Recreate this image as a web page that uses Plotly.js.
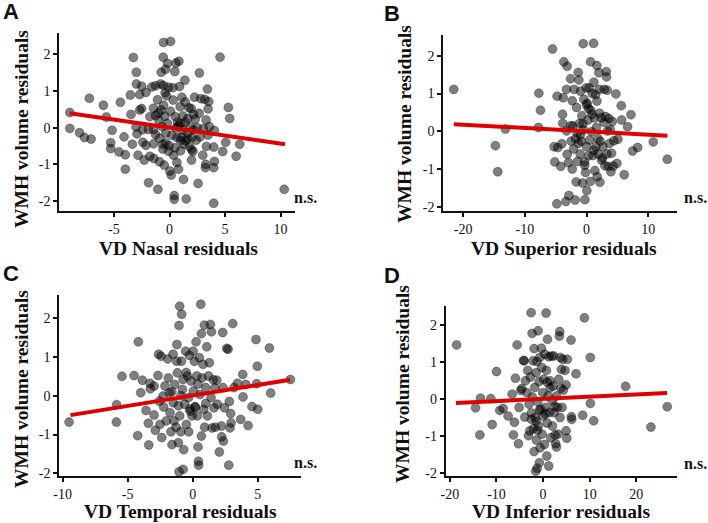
<!DOCTYPE html>
<html>
<head>
<meta charset="utf-8">
<script src="https://cdn.plot.ly/plotly-3.0.1.min.js"></script>
<style>html,body{margin:0;padding:0;background:#fff;}#chart{width:708px;height:523px;}</style>
</head>
<body>
<div id="chart"></div>
<script>
// Panel A: VD Nasal residuals vs WMH volume residuals
const nasalX = [-8.98,-8.98,-8.11,-7.66,-7.07,-7.22,-5.96,-5.69,-5.18,-5.3,-5.3,-4.43,-4.55,-4.10,-3.98,-3.98,-3.26,-3.35,-3.47,-3.53,-2.99,-2.99,-3.02,-2.93,-2.84,-2.69,-2.69,-2.51,-2.51,-2.43,-2.40,-2.28,-2.13,-2.13,-1.89,-1.77,-1.77,-1.59,-1.44,-1.44,-1.44,-1.41,-1.26,-1.26,-1.26,-1.05,-1.08,-0.99,-0.90,-0.90,-0.81,-0.75,-0.75,-0.66,-0.60,-0.54,-0.57,-0.54,-0.54,-0.48,-0.42,-0.36,-0.33,-0.33,-0.27,-0.18,-0.09,-0.09,-0.03,0.03,0.09,0.09,0.15,0.21,0.30,0.33,0.36,0.42,0.42,0.48,0.51,0.57,0.57,0.66,0.66,0.72,0.81,0.84,0.90,0.96,0.99,0.99,1.05,1.11,1.20,1.20,1.26,1.29,1.38,1.41,1.41,1.47,1.50,1.65,1.65,1.74,1.80,1.86,1.95,1.98,2.01,2.10,2.16,2.16,2.25,2.31,2.40,2.49,2.57,2.69,2.66,2.75,2.81,2.99,3.05,3.17,3.23,3.29,3.32,3.41,3.47,3.47,3.53,3.59,3.26,3.98,3.98,4.04,3.98,4.04,4.55,4.79,5.06,5.30,5.42,6.0,6.32,10.33,-0.6,-0.2,0.5,1.6,-1.0,2.0,-0.4,0.8,-1.9,1.0];
const nasalY = [0.41,-0.02,-0.14,-0.27,-0.31,0.80,0.61,0.29,-0.07,-0.41,-0.57,0.69,-0.66,-0.25,-0.74,-1.13,1.91,-0.45,0.36,0.89,1.51,1.19,0.02,-0.17,-0.75,0.48,0.90,1.13,0.52,-0.06,-0.40,-0.88,0.96,-0.48,-1.50,-0.78,0.30,1.11,0.53,-0.05,-0.44,-0.84,1.14,0.33,-0.19,-1.68,0.76,0.21,-0.29,-0.93,1.19,1.51,0.48,0.03,-0.58,2.32,1.92,1.15,0.61,-1.02,0.31,1.59,-0.15,-0.42,0.87,1.75,1.10,-0.64,-0.49,-1.18,2.35,0.45,-1.29,-0.21,1.09,0.75,-0.75,-1.95,-1.85,1.53,0.30,1.76,-0.01,-0.27,-0.95,0.15,-1.13,1.81,1.12,0.57,0.11,-0.63,-0.26,0.83,0.32,-0.07,-1.41,-0.45,1.29,0.70,0.15,-0.36,-1.94,0.25,-0.15,0.54,-0.52,0.02,0.52,-0.88,-0.27,-0.65,0.36,-0.06,0.83,0.23,-0.34,0.00,-1.52,1.49,0.39,-0.25,0.79,-0.75,-0.02,0.77,-1.09,0.21,-0.51,1.05,0.51,-0.20,0.71,0.03,-1.00,-2.06,-0.53,-0.92,-1.09,-0.08,1.92,-0.65,-0.40,0.55,0.25,-0.78,-0.45,-1.68,-0.45,0.12,-0.55,-0.30,0.40,-0.60,0.95,0.05,-0.05,-0.35];
const nasalFitX = [-9.0, 10.4];
const nasalFitY = [0.39, -0.45];

// Panel B: VD Superior residuals
const superiorX = [-21.5,-14.76,-14.38,-13.14,-7.73,-7.46,-7.78,-5.51,-5.14,-5.24,-4.81,-4.76,-4.65,-4.16,-4.0,-3.89,-3.84,-3.78,-3.68,-3.35,-3.14,-3.24,-3.24,-3.14,-2.92,-2.86,-2.59,-2.54,-2.49,-2.32,-2.32,-2.22,-2.11,-2.0,-1.84,-1.68,-1.62,-1.51,-1.46,-1.35,-1.30,-1.24,-1.14,-1.03,-0.97,-0.86,-0.76,-0.65,-0.54,-0.49,-0.43,-0.32,-0.27,-0.16,-0.05,0,0.05,0.11,0.22,0.32,0.43,0.49,0.59,0.65,0.70,0.81,0.92,1.03,1.14,1.19,1.30,1.35,1.46,1.51,1.68,1.68,1.73,1.84,1.89,2.0,2.05,2.11,2.16,2.22,2.38,2.43,2.65,2.81,2.86,2.97,3.08,3.19,3.24,3.30,3.35,3.41,3.51,3.62,3.73,3.84,3.95,4.05,4.16,4.32,4.43,4.76,4.92,5.08,5.62,5.68,6.11,6.65,7.19,7.46,8.27,10.81,13.08,-1.0,0.3,1.2,-0.6,0.9,-1.8,2.6,0.0,-0.3,1.6];
const superiorY = [1.11,-0.38,-1.07,0.06,1.01,0.56,0.10,2.18,-0.81,-0.41,-1.92,0.93,-0.43,-0.93,-0.33,0.45,0.21,0.89,1.84,-1.86,1.72,0.01,1.11,-0.61,-0.83,-1.70,1.39,0.15,-0.26,0.81,-1.00,0.14,-0.47,1.11,-1.82,-1.34,0.63,-0.05,-0.80,1.56,-0.32,1.36,0.21,-0.60,1.06,-0.26,0.41,-1.37,2.32,0.04,0.85,-0.81,-1.81,-1.09,1.15,-0.41,-1.57,0.74,0.30,-0.65,1.15,-0.23,-1.33,1.84,0.56,-0.01,1.00,-0.64,2.33,1.30,0.35,-1.04,0.97,-0.41,1.74,0.80,-1.20,-0.19,-0.60,1.55,1.11,0.48,-1.35,-0.26,0.36,-0.76,-0.41,0.24,1.11,-0.91,0.39,1.58,1.44,-0.60,1.09,0.01,-0.93,0.34,-0.32,0.05,-1.07,-0.58,0.26,-0.92,-0.25,0.99,-0.85,-0.21,0.68,0.30,-1.15,0.12,0.44,-0.52,-0.43,-0.28,-0.74,-0.1,0.6,-0.5,0.2,0.45,-0.2,-0.7,0.7,-0.9,0.1];
const superiorFitX = [-21.5, 13.1];
const superiorFitY = [0.19, -0.12];

// Panel C: VD Temporal residuals
const temporalX = [-9.51,-5.85,-5.87,-5.44,-4.51,-4.18,-4.23,-3.87,-4.0,-3.59,-3.41,-3.38,-3.28,-3.26,-2.97,-2.97,-2.87,-2.67,-2.62,-2.56,-2.51,-2.38,-2.44,-2.28,-2.23,-2.13,-2.03,-1.92,-1.87,-1.79,-1.74,-1.67,-1.59,-1.51,-1.49,-1.44,-1.38,-1.28,-1.23,-1.21,-1.18,-1.10,-1.10,-1.05,-1.0,-1.05,-1.0,-0.92,-0.85,-0.87,-0.79,-0.74,-0.74,-0.69,-0.62,-0.54,-0.49,-0.41,-0.33,-0.31,-0.26,-0.21,-0.13,-0.05,0.03,0.05,0.13,0.18,0.26,0.31,0.36,0.41,0.44,0.46,0.51,0.56,0.62,0.67,0.67,0.72,0.79,0.85,0.90,0.92,1.0,1.08,1.13,1.21,1.28,1.36,1.41,1.44,1.49,1.59,1.64,1.74,1.85,1.90,2.05,2.21,2.23,2.31,2.33,2.36,2.44,2.62,2.72,2.77,2.82,2.87,2.95,2.92,3.08,3.18,3.44,3.69,3.85,3.87,4.08,4.26,4.56,4.87,4.97,4.92,5.0,5.90,6.0,7.51,-0.2,0.4,-0.9,1.0,-1.6,0.2,-0.5,1.7];
const temporalY = [-0.68,-0.23,-0.68,0.50,0.52,1.39,-1.03,0.40,0.08,-0.38,-0.71,-1.27,0.32,0.18,-0.50,0.25,-0.89,0.52,1.07,-0.14,-0.74,-1.08,1.02,-0.01,-0.29,0.25,-0.65,0.95,0.46,0.08,-0.44,-0.93,-1.26,1.07,-0.18,-0.65,0.29,-0.81,0.89,1.32,0.59,-0.26,-1.21,1.81,2.31,-1.96,-0.52,-0.93,2.10,0.89,0.16,0.42,-1.90,-1.39,-0.22,1.15,-0.74,0.51,-0.05,-0.93,1.04,-0.34,0.38,-0.52,1.15,0.12,0.89,-0.28,1.39,0.51,-0.52,-1.32,-1.69,-1.79,0.98,0.03,2.36,-1.04,1.60,0.46,0.81,-0.35,1.82,-0.81,0.21,1.26,-0.52,0.51,0.85,1.84,-0.05,1.65,-0.83,0.41,-0.31,-0.81,0.40,-0.22,-1.45,-0.78,-1.06,1.63,0.21,-1.17,-0.31,1.22,1.20,-1.79,-0.15,-0.83,-0.70,-0.46,1.86,0.21,0.32,-0.61,0.55,-0.03,0.29,-0.77,-0.28,1.45,0.76,0.31,-0.35,1.23,0.07,0.42,-0.4,0.3,0.0,-0.2,0.1,-0.3,0.6,0.2];
const temporalFitX = [-9.4, 7.5];
const temporalFitY = [-0.50, 0.41];

// Panel D: VD Inferior residuals
const inferiorX = [-18.57,-14.5,-13.57,-13.43,-11.21,-10.93,-10.0,-9.29,-8.57,-7.5,-6.64,-6.36,-6.14,-5.93,-5.57,-5.29,-5.14,-4.79,-4.57,-4.21,-4.07,-3.93,-3.79,-3.5,-3.29,-3.14,-3.0,-2.86,-2.71,-2.57,-2.5,-2.36,-2.29,-2.14,-2.07,-1.93,-1.93,-1.79,-1.71,-1.57,-1.5,-1.43,-1.36,-1.29,-1.14,-1.07,-1.0,-0.86,-0.79,-0.71,-0.64,-0.5,-0.36,-0.29,-0.21,-0.07,0,0.14,0.29,0.36,0.5,0.64,0.71,0.79,0.86,0.93,1.07,1.21,1.21,1.36,1.5,1.64,1.79,1.93,2.0,2.14,2.29,2.36,2.57,2.71,2.86,2.86,3.07,3.21,3.36,3.5,3.57,3.64,3.71,3.79,3.93,4.07,4.21,4.36,4.71,4.93,4.93,5.07,5.21,6.0,6.07,6.14,7.07,8.5,8.86,10.14,10.14,10.86,17.71,23.14,26.64,-1.5,0.5,-2.5,1.5,-0.8,2.5,0.9,-1.2];
const inferiorY = [1.46,-0.24,-0.97,0.02,0.01,-0.69,0.74,-0.31,-0.26,-0.46,0.13,-0.97,-0.63,0.56,1.46,-1.21,-0.23,0.23,0.28,1.04,1.03,-0.49,0.49,0.17,0.77,-0.99,-0.14,-0.86,0.59,2.33,-0.38,1.77,0.05,1.03,-0.80,-1.42,1.36,0.31,-0.50,-1.95,0.71,-1.11,1.01,-1.87,-0.08,1.84,-0.73,0.47,-1.72,1.12,-1.32,-0.28,1.37,0.85,-0.95,0.17,-0.46,0.53,-1.23,1.21,-0.23,2.32,0.77,-1.54,-0.65,1.61,0.08,1.14,-1.81,-0.37,0.49,-1.05,1.16,-0.05,-0.73,0.35,1.16,-0.37,-0.97,-1.21,-1.30,0.08,-0.23,-0.95,0.53,1.70,1.82,-0.50,1.12,0.29,0.80,-0.23,1.07,0.24,0.77,0.38,-0.86,-1.06,1.07,1.59,-0.48,-0.55,0.68,-0.44,2.19,1.12,-0.12,-0.59,0.34,-0.76,-0.21,-0.6,-0.4,-0.55,0.3,-0.3,-0.2,0.45,-0.85];
const inferiorFitX = [-18.7, 26.6];
const inferiorFitY = [-0.11, 0.16];

const tickY = [-2, -1, 0, 1, 2];
const tickYText = ['-2', '-1', '0', '1', '2'];
const ticksA = [-5, 0, 5, 10];
const ticksB = [-20, -10, 0, 10];
const ticksC = [-10, -5, 0, 5];
const ticksD = [-20, -10, 0, 10, 20];
const txt = a => a.map(v => String(v));

const marker = {size: 9, color: 'rgba(0,0,0,0.5)', line: {color: 'rgba(0,0,0,0.3)', width: 1}};
const fitLine = {color: '#e00000', width: 4};

function pts(x, y, xa, ya) {
  return {x: x, y: y, xaxis: xa, yaxis: ya, type: 'scatter', mode: 'markers', marker: marker, hoverinfo: 'skip'};
}
function fit(x, y, xa, ya) {
  return {x: x, y: y, xaxis: xa, yaxis: ya, type: 'scatter', mode: 'lines', line: fitLine, hoverinfo: 'skip'};
}

const data = [
  pts(nasalX, nasalY, 'x', 'y'), fit(nasalFitX, nasalFitY, 'x', 'y'),
  pts(superiorX, superiorY, 'x2', 'y2'), fit(superiorFitX, superiorFitY, 'x2', 'y2'),
  pts(temporalX, temporalY, 'x3', 'y3'), fit(temporalFitX, temporalFitY, 'x3', 'y3'),
  pts(inferiorX, inferiorY, 'x4', 'y4'), fit(inferiorFitX, inferiorFitY, 'x4', 'y4')
];

const SERIF = 'Liberation Serif, Times New Roman, serif';
const tickFont = {family: SERIF, size: 14, color: '#111'};
function xax(domain, range, ticks, anchor) {
  return {domain: domain, range: range, anchor: anchor, tickvals: ticks, ticktext: txt(ticks),
    showline: true, linecolor: '#111', linewidth: 2, ticks: 'outside', ticklen: 4, tickwidth: 2, tickcolor: '#111',
    showgrid: false, zeroline: false, tickfont: tickFont, fixedrange: true};
}
function yax(domain, range, anchor) {
  return {domain: domain, range: range, anchor: anchor, tickvals: tickY, ticktext: tickYText,
    showline: true, linecolor: '#111', linewidth: 2, ticks: 'outside', ticklen: 4, tickwidth: 2, tickcolor: '#111',
    showgrid: false, zeroline: false, tickfont: tickFont, fixedrange: true};
}

const W = 708, H = 523;
const px = v => v / W, py = v => 1 - v / H;

const serifB = {family: SERIF, size: 19.5, color: '#111'};
const nsFont = {family: SERIF, size: 16, color: '#111'};
const letterFont = {family: 'Liberation Sans, Arial, sans-serif', size: 22, color: '#111'};

function ann(text, x, y, font, angle) {
  return {text: text, x: px(x), y: py(y), xref: 'paper', yref: 'paper', showarrow: false,
    xanchor: 'center', yanchor: 'middle', font: font, textangle: angle || 0};
}

const annotations = [
  ann('<b>A</b>', 11, 11, letterFont), ann('<b>B</b>', 392, 13, letterFont),
  ann('<b>C</b>', 11, 273, letterFont), ann('<b>D</b>', 392, 275, letterFont),
  ann('<b>WMH volume residuals</b>', 21, 129, serifB, -90),
  ann('<b>WMH volume residuals</b>', 404, 124, serifB, -90),
  ann('<b>WMH volume residuals</b>', 21, 389, serifB, -90),
  ann('<b>WMH volume residuals</b>', 402, 384, serifB, -90),
  ann('<b>VD Nasal residuals</b>', 179, 248, serifB),
  ann('<b>VD Superior residuals</b>', 564, 248, serifB),
  ann('<b>VD Temporal residuals</b>', 180, 511, serifB),
  ann('<b>VD Inferior residuals</b>', 561, 511, serifB),
  ann('<b>n.s.</b>', 305, 197, nsFont), ann('<b>n.s.</b>', 695, 197, nsFont),
  ann('<b>n.s.</b>', 305, 462, nsFont), ann('<b>n.s.</b>', 695, 463, nsFont)
];

const layout = {
  width: W, height: H, margin: {l: 0, r: 0, t: 0, b: 0},
  paper_bgcolor: '#fff', plot_bgcolor: '#fff', showlegend: false,
  xaxis: xax([px(59.3), px(295)], [-9.93, 11.3], ticksA, 'y'),
  yaxis: yax([py(211), py(33.3)], [-2.27, 2.57], 'x'),
  xaxis2: xax([px(443.3), px(677.3)], [-23.2, 14.7], ticksB, 'y2'),
  yaxis2: yax([py(211), py(35)], [-2.11, 2.55], 'x2'),
  xaxis3: xax([px(59.3), px(301)], [-10.26, 8.33], ticksC, 'y3'),
  yaxis3: yax([py(476), py(295.3)], [-2.07, 2.59], 'x3'),
  xaxis4: xax([px(445.7), px(677.3)], [-20.9, 28.8], ticksD, 'y4'),
  yaxis4: yax([py(476), py(306)], [-2.08, 2.51], 'x4'),
  annotations: annotations
};

Plotly.newPlot('chart', data, layout, {displayModeBar: false, staticPlot: true});
</script>
</body>
</html>
